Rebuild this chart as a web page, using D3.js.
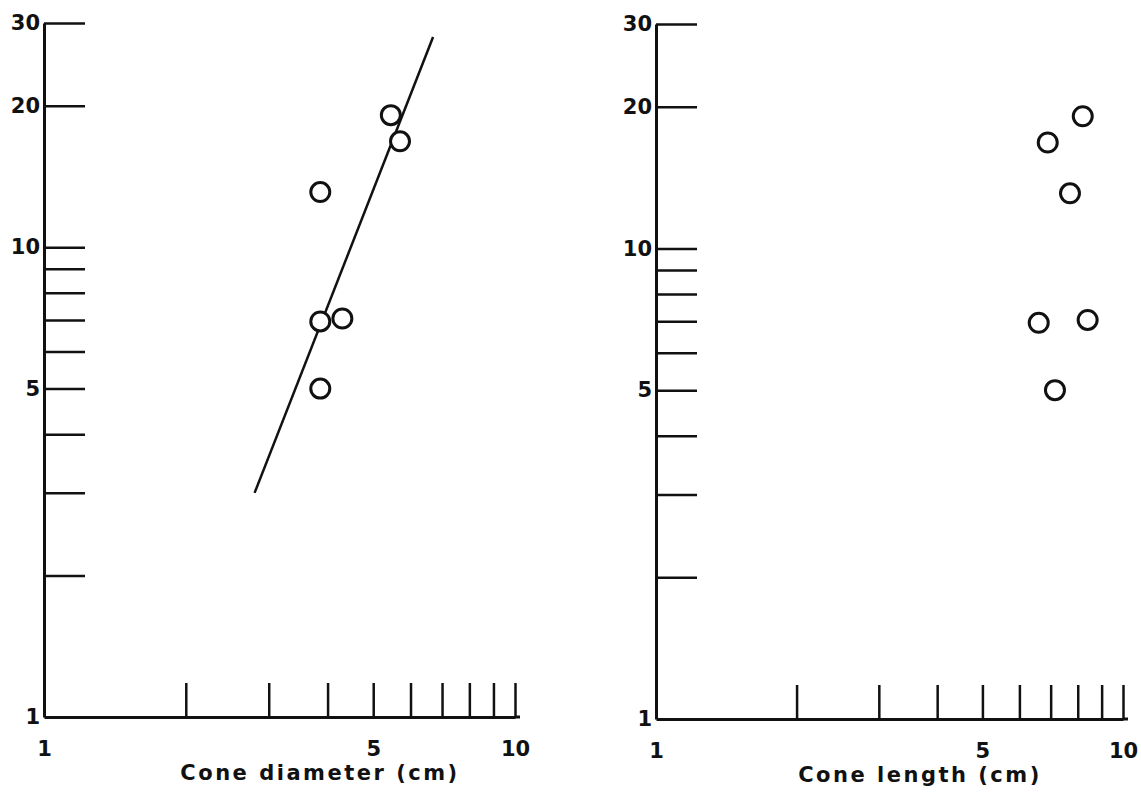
<!DOCTYPE html>
<html>
<head>
<meta charset="utf-8">
<script src="https://cdn.jsdelivr.net/npm/d3@7"></script>
<style>
  body { margin: 0; background: #fff; }
  text { font-family: "DejaVu Sans", "Liberation Sans", sans-serif; fill: #111; }
</style>
</head>
<body>
<div id="chart"></div>
<script>
// data
var coneHeight = [19.1, 16.8, 13.1, 6.95, 7.05, 5.0];
var coneDiameter = [5.45, 5.7, 3.86, 3.86, 4.3, 3.86];
var coneLength = [8.2, 6.9, 7.7, 6.6, 8.4, 7.15];

// fitted line, left panel
var fitX = [2.8, 6.7];
var fitY = [3.0, 28];

var yTicks = [1, 2, 3, 4, 5, 6, 7, 8, 9, 10, 20, 30];
var yLabels = [1, 5, 10, 20, 30];
var xTicks = [1, 2, 3, 4, 5, 6, 7, 8, 9, 10];
var xLabels = [1, 5, 10];

var svg = d3.select("#chart").append("svg")
    .attr("width", 1141)
    .attr("height", 803);

function panel(cfg) {
    var g = svg.append("g");

    var xScale = d3.scaleLog().domain([1, 10]).range(cfg.xRange);
    var yScale = d3.scaleLog().domain([1, 30]).range(cfg.yRange);

    var yAxis = d3.axisLeft(yScale)
        .tickValues(yTicks)
        .tickSizeInner(-41)
        .tickSizeOuter(0)
        .tickPadding(4)
        .tickFormat(d => yLabels.indexOf(d) >= 0 ? d : "");

    var xAxis = d3.axisBottom(xScale)
        .tickValues(xTicks)
        .tickSizeInner(-34)
        .tickSizeOuter(0)
        .tickPadding(24)
        .tickFormat(d => xLabels.indexOf(d) >= 0 ? d : "");

    var ya = g.append("g")
        .attr("transform", "translate(" + cfg.xRange[0] + ",0)")
        .call(yAxis);
    var xa = g.append("g")
        .attr("transform", "translate(0," + cfg.yRange[0] + ")")
        .call(xAxis);

    [ya, xa].forEach(function (a) {
        a.select(".domain").attr("stroke", "#111").attr("stroke-width", 3);
        a.selectAll(".tick line").attr("stroke", "#111").attr("stroke-width", 2.5);
        a.selectAll(".tick text")
            .style("font-size", "21px")
            .style("font-weight", "bold")
            .attr("fill", "#111");
        a.attr("font-family", null).attr("font-size", null);
    });
    // the 1 ticks sit on the other axis
    ya.selectAll(".tick").filter(d => d == 1).select("line").remove();
    xa.selectAll(".tick").filter(d => d == 1).select("line").remove();

    // axis line runs a little past the 10 tick
    xa.append("line")
        .attr("x1", cfg.xRange[1])
        .attr("x2", cfg.xRange[1] + 5)
        .attr("stroke", "#111")
        .attr("stroke-width", 3);

    g.append("text")
        .attr("x", cfg.titleX)
        .attr("y", cfg.yRange[0] + 63)
        .attr("text-anchor", "middle")
        .style("font-size", "21px")
        .style("font-weight", "bold")
        .style("letter-spacing", "2.5px")
        .text(cfg.title);

    if (cfg.fit) {
        g.append("line")
            .attr("x1", xScale(fitX[0]))
            .attr("y1", yScale(fitY[0]))
            .attr("x2", xScale(fitX[1]))
            .attr("y2", yScale(fitY[1]))
            .attr("stroke", "#111")
            .attr("stroke-width", 2.5);
    }

    g.selectAll("circle")
        .data(cfg.xs)
        .enter()
        .append("circle")
        .attr("cx", d => xScale(d))
        .attr("cy", (d, i) => yScale(coneHeight[i]))
        .attr("r", 9.5)
        .attr("fill", "white")
        .attr("stroke", "#111")
        .attr("stroke-width", 3);
}

panel({
    xRange: [44, 515],
    yRange: [717, 23],
    xs: coneDiameter,
    title: "Cone diameter (cm)",
    titleX: 320,
    fit: true
});

panel({
    xRange: [656, 1123],
    yRange: [719, 24],
    xs: coneLength,
    title: "Cone length (cm)",
    titleX: 920,
    fit: false
});
</script>
</body>
</html>
